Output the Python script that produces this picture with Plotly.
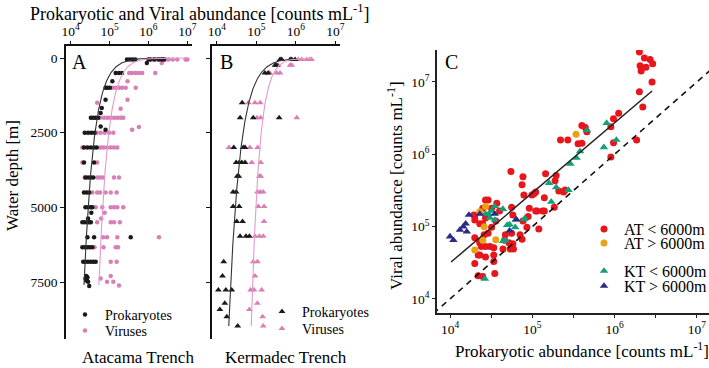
import numpy as np
import plotly.graph_objects as go

FONT = "Liberation Serif, Times New Roman, serif"
W, H = 709, 368

BLACK = "#1a1a1a"
PINK = "#d77fb6"
PINK_LINE = "#e59acb"
RED = "#e8151c"
ORANGE = "#e8a215"
GREEN = "#11a07a"
NAVY = "#2d2a87"

# ---------------- Panel A : Atacama Trench (depth [m], abundance [counts/mL]) ----------------
A_prok_depth = [50]*10 + [170] + [500]*3 + [780] + [1000]*3 + [1400, 1670, 1840] + [2000]*4 + [2290, 2400] \
    + [2500]*4 + [3000]*5 + [3500]*2 + [4000]*4 + [4500]*3 + [5000]*4 + [5180, 5370] + [5500]*5 \
    + [6000]*3 + [6340]*5 + [6820]*6 + [7300, 7340, 7380, 7430, 7450, 7490, 7630]
A_prok_abund = [2.8e5, 3.3e5, 3.9e5, 4.6e5, 1.0e6, 1.1e6, 1.4e6, 1.8e6, 2.2e6, 2.5e6,
                9.1e5,
                1.44e5, 1.75e5, 2.1e5,
                1.18e5,
                7.9e4, 8.8e4, 1.02e5,
                7.9e4, 6.3e4, 5.9e4,
                3.3e4, 3.8e4, 4.4e4, 5.1e4,
                5.9e4, 7.9e4,
                2.3e4, 2.8e4, 3.4e4, 4.1e4,
                2.2e4, 2.7e4, 3.3e4, 4.0e4, 4.7e4,
                2.2e4, 4.0e4,
                2.4e4, 2.8e4, 3.3e4, 3.8e4,
                2.2e4, 2.6e4, 3.0e4,
                2.4e4, 2.8e4, 3.3e4, 3.6e4,
                3.4e4, 2.8e4,
                2.0e4, 2.3e4, 2.7e4, 3.0e4, 3.3e4,
                2.7e4, 4.0e4, 3.5e5,
                2.0e4, 2.3e4, 2.7e4, 3.1e4, 3.6e4,
                2.1e4, 2.4e4, 2.8e4, 3.3e4, 3.8e4, 4.4e4,
                2.5e4, 2.7e4, 2.4e4, 2.6e4, 2.5e4, 2.8e4, 3.0e4]

A_vir_depth = [50]*10 + [170] + [500]*6 + [780] + [1000]*6 + [1400, 1500, 1700] + [2000]*8 + [2310, 2400] \
    + [2500]*5 + [3000]*7 + [3500]*2 + [4000]*6 + [4500]*6 + [5000]*6 + [5180, 5370] + [5500]*4 \
    + [6000]*4 + [6340]*4 + [6820]*2 + [7300, 7380, 7490, 7490, 7620]
A_vir_abund = [1.2e6, 1.5e6, 1.9e6, 2.3e6, 2.8e6, 3.3e6, 4.2e6, 5.5e6, 9.0e6, 1.0e7,
               2.2e6,
               3.2e5, 3.8e5, 4.7e5, 5.7e5, 6.9e5, 1.5e6,
               2.9e5,
               1.18e5, 1.44e5, 1.75e5, 2.1e5, 2.6e5, 4.7e5,
               2.9e5, 4.8e4, 1.93e5,
               5.7e4, 7.2e4, 8.8e4, 1.07e5, 1.3e5, 1.58e5, 1.93e5, 2.25e5,
               5.7e5, 3.8e5,
               4.7e4, 5.9e4, 7.5e4, 9.7e4, 1.25e5,
               2.0e4, 5.9e4, 7.0e4, 8.6e4, 1.07e5, 1.3e5, 1.58e5,
               2.0e4, 4.8e4,
               2.3e4, 4.8e4, 5.7e4, 6.8e4, 1.3e5, 1.75e5,
               3.6e4, 4.8e4, 5.7e4, 7.9e4, 1.07e5, 1.52e5,
               4.4e4, 6.5e4, 1.07e5, 1.3e5, 1.58e5, 2.25e5,
               7.5e4, 6.1e4,
               4.8e4, 1.07e5, 1.3e5, 1.84e5,
               6.8e4, 8.6e4, 1.58e5, 1.86e6,
               4.1e4, 7.0e4, 1.44e5, 1.65e5,
               1.07e5, 1.52e5,
               1.07e5, 5.9e4, 8.6e4, 1.25e5, 1.75e5]

# ---------------- Panel B : Kermadec Trench ----------------
B_prok_depth = [50]*5 + [245]*2 + [500]*2 + [1500] + [2000]*3 + [3000]*3 + [3500]*4 + [3960]*2 \
    + [4490]*2 + [4970]*2 + [5470]*2 + [5970]*3 + [6820, 7300] + [7770]*3 + [8210, 8420, 8660, 8970]
B_prok_abund = [4.0e5, 4.4e5, 7.2e5, 7.9e5, 9.6e5,
                3.0e5, 3.3e5,
                1.66e5, 2.0e5,
                4.4e4,
                3.9e4, 8.4e4, 3.8e5,
                2.7e4, 4.7e4, 5.2e4,
                3.1e4, 3.7e4, 4.3e4, 5.2e4,
                3.3e4, 3.6e4,
                2.6e4, 3.1e4,
                2.6e4, 3.7e4,
                3.2e4, 4.5e4,
                3.9e4, 5.5e4, 6.7e4,
                1.5e4, 1.4e4,
                1.1e4, 1.7e4, 2.4e4,
                1.6e4, 1.2e4, 1.8e4, 3.4e4]

B_vir_depth = [50]*5 + [245]*3 + [500]*3 + [1500]*3 + [2000]*3 + [3000]*3 + [3500]*2 + [3960]*2 \
    + [4490]*3 + [4970]*2 + [5470] + [5970]*3 + [6820]*2 + [7300] + [7770]*3 + [8210, 8420, 8660, 8970]
B_vir_abund = [1.16e6, 1.41e6, 1.9e6, 2.3e6, 2.5e6,
               3.6e5, 7.2e5, 7.9e5,
               2.2e5, 3.3e5, 4.0e5,
               6.3e4, 9.3e4, 1.26e5,
               1.05e5, 1.3e5, 1.06e6,
               2.04e4, 6.9e4, 1.09e5,
               7.7e4, 1.3e5,
               1.2e5, 1.3e5,
               1.07e5, 1.26e5, 1.5e5,
               1.13e5, 1.58e5,
               1.58e5,
               9.3e4, 1.2e5, 1.5e5,
               8.4e4, 1.07e5,
               9.3e4,
               7.2e4, 8.8e4, 1.37e5,
               1.07e5, 6.7e4, 1.45e5, 1.5e5]

# power-law fits  N = 10**loga * depth**b  (loga, b, first depth, last depth)
A_PROK_FIT = (6.606, -0.583, 2.0, 7600)
A_VIR_FIT = (6.768, -0.526, 0.33, 7600)
B_PROK_FIT = (6.882, -0.652, 26.0, 8970)
B_VIR_FIT = (6.661, -0.452, 3.6, 8970)

# ---------------- Panel C : viral vs prokaryotic abundance ----------------
AT_lt_prok = [2.0e6, 2.3e6, 2.7e6, 2.9e6, 2.04e6, 2.4e6, 2.1e6, 2.85e6, 2.0e6, 2.2e6,
              1.12e6, 9.7e5, 9.0e5, 4.0e5, 4.4e5, 4.6e5,
              2.2e5, 2.7e5, 3.6e5, 4.0e5, 9.7e5, 1.85e6, 9.0e5,
              5.5e4, 7.7e4, 7.5e4, 7.9e4, 1.45e5, 1.95e5, 1.89e5, 2.1e5, 2.4e5, 1.1e5, 9.9e4, 2.7e4, 1.4e5,
              3.7e4, 3.2e4, 2.5e4, 2.0e4, 2.0e4, 2.9e4,
              1.85e5, 1.14e5, 1.33e5, 9.2e4, 8.9e4, 7.7e4, 5.8e4, 5.6e4, 4.0e4, 2.7e4, 3.6e4,
              4.7e4, 5.6e4, 1.2e5, 8.6e4, 5.8e4, 5.4e4, 5.9e4, 4.4e4, 3.4e4, 2.7e4, 2.3e4, 2.0e4,
              2.2e4, 2.0e4, 2.7e4, 3.4e4, 3.5e4, 2.2e4, 2.5e4, 3.4e4,
              2.9e4, 3.2e4, 2.5e4, 1.95e4, 2.3e4, 2.6e4, 2.3e4, 2.4e4, 2.3e4, 3.06e4, 4.6e4, 5.2e4,
              7.1e4, 7.5e4, 1.1e5, 1.4e5, 1.05e5, 2.5e5]
AT_lt_vir = [2.6e7, 2.15e7, 2.05e7, 1.78e7, 1.67e7, 1.6e7, 1.42e7, 1.0e7, 7.3e6, 4.5e6,
             3.7e6, 3.1e6, 2.4e6, 2.5e6, 2.35e6, 2.05e6,
             1.58e6, 1.58e6, 1.4e6, 1.42e6, 1.44e6, 1.58e6, 9.2e5,
             5.8e5, 4.9e5, 3.8e5, 2.74e5, 5.4e5, 5.1e5, 4.3e5, 3.1e5, 3.0e5, 3.0e5, 2.74e5, 2.34e5, 2.5e5,
             2.1e5, 1.8e5, 1.8e5, 1.4e5, 1.24e5, 2.34e5,
             1.85e5, 1.65e5, 1.65e5, 1.8e5, 1.38e5, 1.2e5, 1.45e5, 1.85e5, 1.65e5, 1.32e5, 1.2e5,
             7.7e4, 8.1e4, 9.3e4, 9.8e4, 5.8e4, 4.9e4, 4.9e4, 4.9e4, 5.1e4, 5.3e4, 6.0e4, 7.0e4,
             4.05e4, 3.1e4, 3.8e4, 3.3e4, 2.25e4, 2.1e4, 2.05e4, 4.05e4,
             8.1e4, 9.8e4, 1.1e5, 1.45e5, 1.1e5, 7.7e4, 6.3e4, 5.3e4, 4.05e4, 5.3e4, 6.5e4, 6.0e4,
             7.7e4, 6.7e4, 1.65e5, 1.65e5, 2.85e5, 3.2e5]

AT_gt_prok = [3.4e5, 2.3e4, 2.7e4, 2.5e4, 3.6e4, 2.0e4, 2.6e4]
AT_gt_vir = [1.9e6, 1.6e5, 1.9e5, 6.5e4, 6.6e4, 4.75e4, 1.0e5]

KT_lt_prok = [8.0e5, 4.6e5, 1.05e6, 7.4e5, 3.8e5, 3.45e5, 2.9e5, 1.6e5, 1.95e5, 2.75e5, 1.7e5,
              8.1e4, 6.3e4, 4.95e4, 4.4e4, 2.95e4, 3.2e4, 3.06e4, 3.5e4, 3.5e4, 2.65e4,
              6.2e4, 5.3e4, 8.0e4, 4.7e4, 4.4e4, 2.7e4]
KT_lt_vir = [2.7e6, 2.15e6, 1.58e6, 1.25e6, 1.1e6, 8.9e5, 7.4e5, 4.0e5, 3.5e5, 3.2e5, 2.2e5,
             1.3e5, 1.24e5, 1.05e5, 1.75e5, 1.5e5, 1.65e5, 1.32e5, 1.24e5, 1.9e5, 1.9e4,
             9.8e4, 1.07e5, 1.26e5, 6.5e4, 6.3e4, 1.5e5]

KT_gt_prok = [1.7e4, 1.55e4, 1.45e4, 1.32e4, 1.6e4, 1.0e4, 1.1e4, 2.3e4, 3.5e4, 6.4e4, 5.3e4]
KT_gt_vir = [1.45e5, 1.1e5, 1.0e5, 9.0e4, 8.5e4, 7.3e4, 6.5e4, 1.5e5, 1.5e5, 1.26e5, 8.8e4]

C_fit_x = [1.03e4, 2.85e6]
C_fit_y = [3.24e4, 7.5e6]
ONE_TO_ONE = [5.0e3, 2.0e7]

DEPTH_TICKS = [0, 2500, 5000, 7500]
LOG_TICKS = [1e4, 1e5, 1e6, 1e7]
HALF_DECADE_TICKS = [10 ** 4.5, 10 ** 5.5, 10 ** 6.5]
LOG_TICKTEXT = ["10<sup>4</sup>", "10<sup>5</sup>", "10<sup>6</sup>", "10<sup>7</sup>"]


def fit_curve(p):
    loga, b, z0, z1 = p
    z = np.geomspace(z0, z1, 300)
    return 10 ** (loga + b * np.log10(z)), z


fig = go.Figure()

# ---- panel A ----
fig.add_trace(go.Scatter(x=A_vir_abund, y=A_vir_depth, mode="markers", xaxis="x", yaxis="y",
                         marker=dict(color=PINK, size=4.5), name="Viruses", legend="legend2"))
fig.add_trace(go.Scatter(x=A_prok_abund, y=A_prok_depth, mode="markers", xaxis="x", yaxis="y",
                         marker=dict(color=BLACK, size=4.5), name="Prokaryotes", legend="legend"))
for p, col in [(A_PROK_FIT, "#333333"), (A_VIR_FIT, PINK_LINE)]:
    cx, cz = fit_curve(p)
    fig.add_trace(go.Scatter(x=cx, y=cz, mode="lines", xaxis="x", yaxis="y",
                             line=dict(color=col, width=1.1), showlegend=False, hoverinfo="skip"))

# ---- panel B ----
fig.add_trace(go.Scatter(x=B_vir_abund, y=B_vir_depth, mode="markers", xaxis="x2", yaxis="y2",
                         marker=dict(color=PINK, size=6, symbol="triangle-up"), name="Viruses", legend="legend4"))
fig.add_trace(go.Scatter(x=B_prok_abund, y=B_prok_depth, mode="markers", xaxis="x2", yaxis="y2",
                         marker=dict(color=BLACK, size=6, symbol="triangle-up"), name="Prokaryotes", legend="legend3"))
for p, col in [(B_PROK_FIT, "#333333"), (B_VIR_FIT, PINK_LINE)]:
    cx, cz = fit_curve(p)
    fig.add_trace(go.Scatter(x=cx, y=cz, mode="lines", xaxis="x2", yaxis="y2",
                             line=dict(color=col, width=1.1), showlegend=False, hoverinfo="skip"))

# ---- panel C ----
fig.add_trace(go.Scatter(x=AT_lt_prok, y=AT_lt_vir, mode="markers", xaxis="x3", yaxis="y3",
                         marker=dict(color=RED, size=7), name="AT &lt; 6000m", legend="legend5"))
fig.add_trace(go.Scatter(x=AT_gt_prok, y=AT_gt_vir, mode="markers", xaxis="x3", yaxis="y3",
                         marker=dict(color=ORANGE, size=7), name="AT &gt; 6000m", legend="legend6"))
fig.add_trace(go.Scatter(x=KT_lt_prok, y=KT_lt_vir, mode="markers", xaxis="x3", yaxis="y3",
                         marker=dict(color=GREEN, size=7.5, symbol="triangle-up"), name="KT &lt; 6000m", legend="legend7"))
fig.add_trace(go.Scatter(x=KT_gt_prok, y=KT_gt_vir, mode="markers", xaxis="x3", yaxis="y3",
                         marker=dict(color=NAVY, size=7.5, symbol="triangle-up"), name="KT &gt; 6000m", legend="legend8"))
fig.add_trace(go.Scatter(x=C_fit_x, y=C_fit_y, mode="lines", xaxis="x3", yaxis="y3",
                         line=dict(color="#222222", width=1.5), showlegend=False, hoverinfo="skip"))
fig.add_trace(go.Scatter(x=ONE_TO_ONE, y=ONE_TO_ONE, mode="lines", xaxis="x3", yaxis="y3",
                         line=dict(color="#111111", width=1.6, dash="6px,5px"), showlegend=False, hoverinfo="skip"))

tickfont = dict(family=FONT, size=13.5, color="black")
depth_dom = [1 - 339 / H, 1 - 46 / H]
depth_range = [9408, -402]

common_log_top = dict(type="log", range=[3.88, 7.12], side="top", tickvals=LOG_TICKS, ticktext=LOG_TICKTEXT,
                      showline=True, linecolor="#111", linewidth=1.5, ticks="outside", ticklen=3,
                      tickcolor="#111", showgrid=False, zeroline=False, tickfont=tickfont)
common_depth = dict(range=depth_range, domain=depth_dom, tickvals=DEPTH_TICKS, showline=True,
                    linecolor="#111", linewidth=1.5, ticks="outside", ticklen=4, tickcolor="#111",
                    showgrid=False, zeroline=False, tickfont=tickfont)

legend_base = dict(bgcolor="rgba(0,0,0,0)", borderwidth=0, xanchor="left", yanchor="middle",
                   itemwidth=30)


def leg(xpx, ypx, size):
    d = dict(legend_base)
    d.update(x=xpx / W, y=1 - ypx / H, font=dict(family=FONT, size=size, color="black"))
    return d


fig.update_layout(
    width=W, height=H, margin=dict(l=0, r=0, t=0, b=0, autoexpand=False),
    paper_bgcolor="white", plot_bgcolor="white",
    font=dict(family=FONT, color="black"),
    xaxis=dict(domain=[66 / W, 192 / W], anchor="y", **common_log_top),
    yaxis=dict(anchor="x", **common_depth),
    xaxis2=dict(domain=[212 / W, 340 / W], anchor="y2", **common_log_top),
    yaxis2=dict(anchor="x2", showticklabels=False, **common_depth),
    xaxis3=dict(domain=[437 / W, 1.0], anchor="y3", type="log", range=[3.842, 7.147],
                tickvals=LOG_TICKS, ticktext=LOG_TICKTEXT,
                minor=dict(tickvals=HALF_DECADE_TICKS, ticks="outside", ticklen=3, tickcolor="#222", showgrid=False),
                showline=True, linecolor="#222", linewidth=1.8, ticks="outside", ticklen=3,
                tickcolor="#222", showgrid=False, zeroline=False, tickfont=tickfont),
    yaxis3=dict(domain=[1 - 313 / H, 1 - 50 / H], anchor="x3", type="log", range=[3.806, 7.442],
                tickvals=LOG_TICKS, ticktext=LOG_TICKTEXT,
                showline=True, linecolor="#222", linewidth=1.8, ticks="outside", ticklen=3,
                tickcolor="#222", showgrid=False, zeroline=False, tickfont=tickfont),
    legend=leg(65, 315, 14),
    legend2=leg(65, 331, 14),
    legend3=leg(262, 312, 14),
    legend4=leg(262, 329, 14),
    legend5=leg(584, 229, 16),
    legend6=leg(584, 243, 16),
    legend7=leg(584, 271, 16),
    legend8=leg(584, 286, 16),
    showlegend=True,
)

ann_font = dict(family=FONT, size=17, color="black")
annotations = [
    dict(text="Prokaryotic and Viral abundance [counts mL<sup>-1</sup>]", x=200 / W, y=1 - 12 / H,
         font=dict(family=FONT, size=18, color="black")),
    dict(text="Water depth [m]", x=12 / W, y=1 - 176 / H, textangle=-90),
    dict(text="Atacama Trench", x=138 / W, y=1 - 357 / H),
    dict(text="Kermadec Trench", x=286 / W, y=1 - 357 / H),
    dict(text="Viral abundance [counts mL<sup>-1</sup>]", x=395 / W, y=1 - 186 / H, textangle=-90),
    dict(text="Prokaryotic abundance [counts mL<sup>-1</sup>]", x=582 / W, y=1 - 350 / H),
]
for a in annotations:
    a.setdefault("font", ann_font)
    a.update(xref="paper", yref="paper", showarrow=False, xanchor="center", yanchor="middle")
for lab, xx in [("A", 79), ("B", 226), ("C", 451)]:
    annotations.append(dict(text=lab, x=xx / W, y=1 - 62 / H, xref="paper", yref="paper", showarrow=False,
                            xanchor="center", yanchor="middle", font=dict(family=FONT, size=20, color="black")))
fig.update_layout(annotations=annotations)

fig.write_html("out.html", config={"displayModeBar": False},
               post_script="document.body.style.margin='0';document.body.style.padding='0';"
                           "document.documentElement.style.overflow='hidden';")
